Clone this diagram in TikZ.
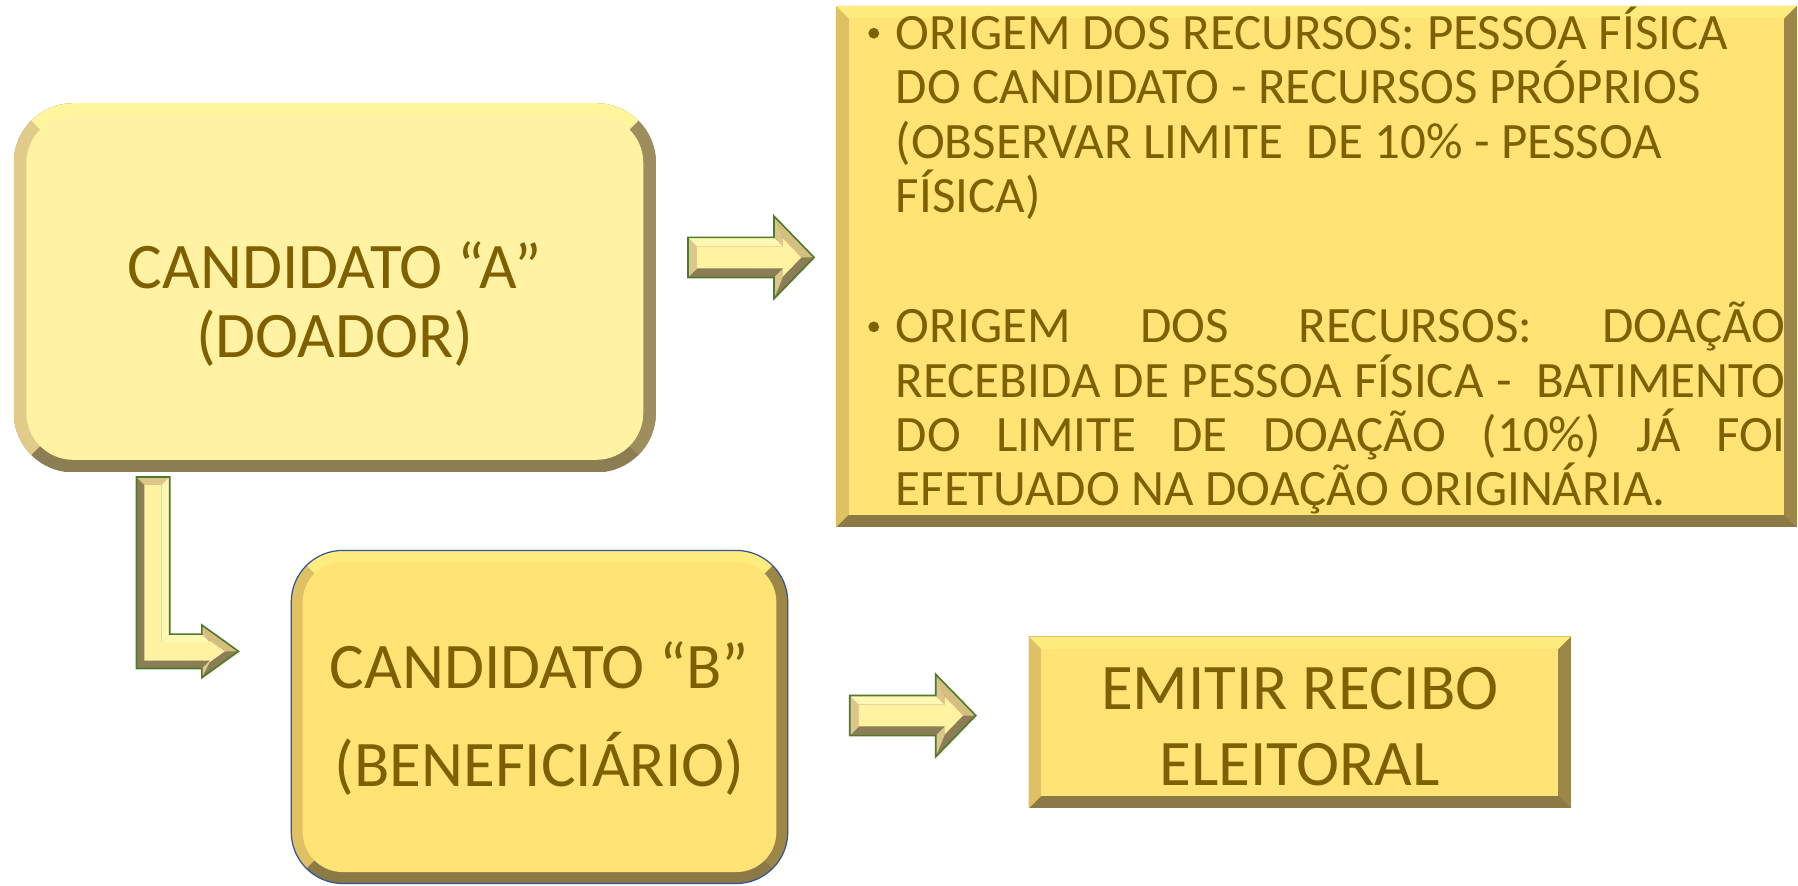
\documentclass[tikz,border=0pt]{standalone}
\usepackage{fontspec}
\setmainfont{Carlito}
\definecolor{txt}{HTML}{7F6000}
\definecolor{Atop}{HTML}{FFF59C}
\definecolor{Aleft}{HTML}{E0CB88}
\definecolor{Aright}{HTML}{9E8E5E}
\definecolor{Abot}{HTML}{8C7D52}
\definecolor{Aface}{HTML}{FFF2A2}
\definecolor{Rtop}{HTML}{FFEC7E}
\definecolor{Rleft}{HTML}{DFC062}
\definecolor{Rright}{HTML}{9C8648}
\definecolor{Rbot}{HTML}{8B7946}
\definecolor{Rface}{HTML}{FFE475}
\definecolor{Wtop}{HTML}{FFF8B4}
\definecolor{Wleft}{HTML}{DCC68A}
\definecolor{Wdiag}{HTML}{D5BF80}
\definecolor{Wdark}{HTML}{8B7D55}
\definecolor{Wface}{HTML}{FFF2A0}
\definecolor{Wline}{HTML}{4E7A2A}
\definecolor{Bline}{HTML}{2F5597}
% x0 y0 x1 y1 bevel diag outer-radius prefix face-radius
\newcommand\bevelbox[9]{%
  \begin{scope}
    \clip[rounded corners=#7] (#1,#2) rectangle (#3,#4);
    \fill[#8bot] (#1,#2) rectangle (#3,#4);
    \fill[#8right] (#3,#2) -- (#3,#4) -- ({#3-#6},{#4-#6}) -- ({#3-#6},{#2+#6}) -- cycle;
    \fill[#8left] (#1,#2) -- ({#1+#6},{#2+#6}) -- ({#1+#6},{#4-#6}) -- (#1,#4) -- cycle;
    \fill[#8top] (#1,#2) -- (#3,#2) -- ({#3-#6},{#2+#6}) -- ({#1+#6},{#2+#6}) -- cycle;
  \end{scope}
  \fill[#8face, rounded corners=#9] ({#1+#5},{#2+#5}) rectangle ({#3-#5},{#4-#5});
}
\newcommand\blockarrow[1]{%
  \begin{scope}[shift={#1}]
    \fill[Wdark] (0,-17.5) -- (75,-17.5) -- (75,-36) -- (110,0) -- (75,36) -- (75,17.5) -- (0,17.5) -- cycle;
    \fill[Wleft] (0,17.5) -- (0,-17.5) -- (8,-9.5) -- (8,9.5) -- cycle;
    \fill[Wtop] (0,-17.5) -- (75,-17.5) -- (83,-9.5) -- (8,-9.5) -- cycle;
    \fill[Wleft] (75,-17.5) -- (75,-36) -- (83,-16.3) -- (83,-9.5) -- cycle;
    \fill[Wdiag] (75,-36) -- (110,0) -- (98.8,0) -- (83,-16.3) -- cycle;
    \fill[Wleft] (75,36) -- (75,17.5) -- (83,9.5) -- (83,16.3) -- cycle;
    \fill[Wface] (8,-9.5) -- (83,-9.5) -- (83,-16.3) -- (98.8,0) -- (83,16.3) -- (83,9.5) -- (8,9.5) -- cycle;
    \draw[arrowline] (0,-17.5) -- (75,-17.5) -- (75,-36) -- (110,0) -- (75,36) -- (75,17.5) -- (0,17.5) -- cycle;
  \end{scope}
}
\tikzset{
  big/.style={font=\fontsize{65}{70}\selectfont, text=txt, inner sep=0pt, anchor=base},
  med/.style={font=\fontsize{51}{56}\selectfont, text=txt, inner sep=0pt, anchor=base west},
  arrowline/.style={draw=Wline, line width=1.6pt, line join=miter}
}
\begin{document}
\begin{tikzpicture}[x=1.1467pt,y=-1.1467pt]
\useasboundingbox (0,0) rectangle (1568,771.8);
\fill[white] (0,0) rectangle (1568,771.8);

% Box A
\bevelbox{12}{90}{572}{412}{11}{161}{59.6pt}{A}{47pt}
\node[big] (a1) at (292,252) {CANDIDATO “A”};
\node[big] (a2) at (292,312) {(DOADOR)};

% arrow A -> right box
\blockarrow{(600,224.5)}

% Right box
\bevelbox{729}{5}{1567}{460}{11}{227}{0pt}{R}{0pt}
\fill[txt] (762,29) circle (5.4pt);
\node[med] (r1) at (781,43) {ORIGEM DOS RECURSOS: PESSOA FÍSICA};
\node[med] (r2) at (781,90.5) {DO CANDIDATO - RECURSOS PRÓPRIOS};
\node[med] (r3) at (781,138) {(OBSERVAR LIMITE\ \ DE 10\% - PESSOA};
\node[med] (r4) at (781,185.5) {FÍSICA)};
\fill[txt] (762,285) circle (5.4pt);
\node[med] (r5) at (781,299) {\makebox[890pt][s]{ORIGEM DOS RECURSOS: DOAÇÃO}};
\node[med] (r6) at (781,347) {\makebox[890pt][s]{RECEBIDA DE PESSOA FÍSICA -\ \ BATIMENTO}};
\node[med] (r7) at (781,394) {\makebox[890pt][s]{DO LIMITE DE DOAÇÃO (10\%) JÁ FOI}};
\node[med] (r8) at (781,441) {EFETUADO NA DOAÇÃO ORIGINÁRIA.};

% bent arrow A -> B
\fill[Wdark] (119,416) -- (148,416) -- (148,553) -- (176,553) -- (176,545) -- (208,568) -- (176,591) -- (176,583) -- (119,583) -- cycle;
\fill[Wleft] (119,416) -- (148,416) -- (141,423) -- (126,423) -- cycle;
\fill[Wtop] (148,416) -- (148,553) -- (141,560) -- (141,423) -- cycle;
\fill[Wtop] (148,553) -- (176,553) -- (183,560) -- (141,560) -- cycle;
\fill[Wleft] (176,553) -- (176,545) -- (183,558.7) -- (183,560) -- cycle;
\fill[Wdiag] (176,545) -- (208,568) -- (196,568) -- (183,558.7) -- cycle;
\fill[Wleft] (176,591) -- (176,583) -- (183,576) -- (183,577.3) -- cycle;
\fill[Wface] (126,423) -- (141,423) -- (141,560) -- (183,560) -- (183,558.7) -- (196,568) -- (183,577.3) -- (183,576) -- (126,576) -- cycle;
\draw[arrowline] (119,416) -- (148,416) -- (148,553) -- (176,553) -- (176,545) -- (208,568) -- (176,591) -- (176,583) -- (119,583) -- cycle;

% Box B
\bevelbox{254}{480}{687}{770.5}{10}{145}{51.6pt}{R}{40pt}
\draw[Bline, line width=1.2pt, rounded corners=51.6pt] (254,480) rectangle (687,770.5);
\node[big] (b1) at (470.5,600) {CANDIDATO “B”};
\node[big] (b2) at (470.5,686) {(BENEFICIÁRIO)};

% arrow B -> receipt
\blockarrow{(741,624)}

% Receipt box
\bevelbox{897}{555}{1370}{705}{11}{75}{0pt}{R}{0pt}
\node[big] (e1) at (1133.5,619) {EMITIR RECIBO};
\node[big] (e2) at (1133.5,685) {ELEITORAL};
\end{tikzpicture}
\end{document}
